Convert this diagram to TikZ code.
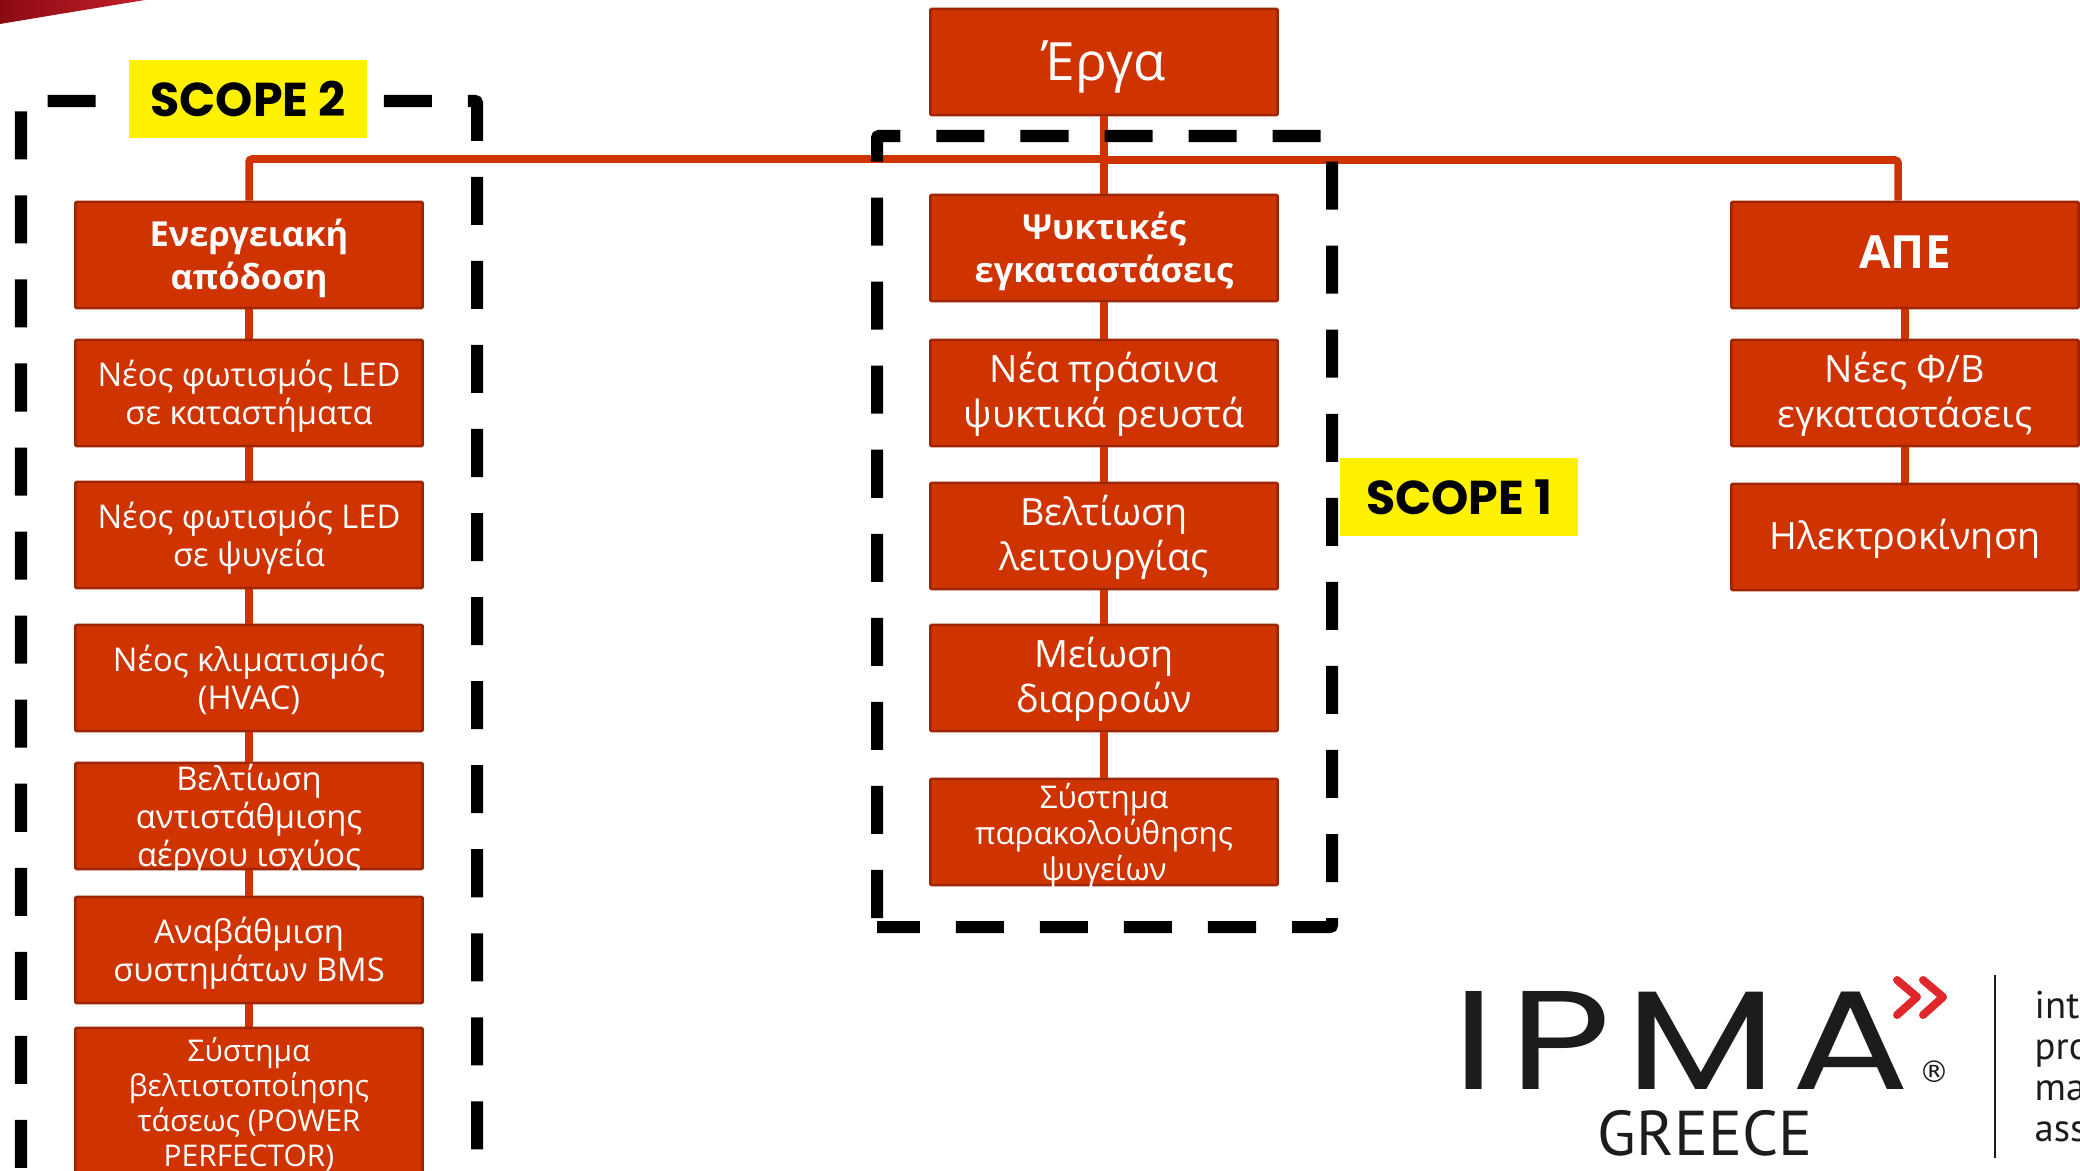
\documentclass[tikz,border=0pt]{standalone}
\usepackage{fontspec}
\setmainfont{Open Sans}
\newfontfamily\labelfont{Poppins}
\newfontfamily\markfont{Poppins}[LetterSpace=8]
\newfontfamily\tagfont{PT Sans}
\newfontfamily\regfont{DejaVu Sans}
\definecolor{boxred}{HTML}{CF3300}
\definecolor{boxedge}{HTML}{9C2500}
\definecolor{swooshdark}{HTML}{8A0A14}
\definecolor{swooshred}{HTML}{C4202A}
\definecolor{markred}{HTML}{E0282C}
\definecolor{markink}{HTML}{1C1C1C}
\newcommand{\boxtext}[2][0.13cm]{\smash{\raisebox{-#1}{\begin{tabular}{@{}c@{}}#2\end{tabular}}}}
\tikzset{
    projbox/.style={draw=boxedge, fill=boxred, text=white, line width=0.025cm, rounded corners=0.01cm, minimum width=3.47cm, minimum height=1.06cm, inner sep=0pt},
    projlink/.style={draw=boxred, line width=0.075cm},
    scopeline/.style={draw=black, line width=0.12cm, dash pattern=on 0.48cm off 0.36cm, rounded corners=0.02cm},
    scopetag/.style={fill=yellow, minimum width=2.38cm, minimum height=0.78cm, inner sep=0pt, font=\labelfont\bfseries\fontsize{13.5}{16}\selectfont},
    topfont/.style={font=\fontsize{15}{17}\selectfont},
    headfont/.style={font=\bfseries\fontsize{9.8}{12.5}\selectfont},
    apefont/.style={font=\bfseries\fontsize{13}{16}\selectfont},
    midfont/.style={font=\fontsize{10.7}{12.8}\selectfont},
    sidefont/.style={font=\fontsize{9.3}{10.8}\selectfont},
    monitorfont/.style={font=\fontsize{8.9}{10.2}\selectfont},
    powerfont/.style={font=\fontsize{8.5}{10}\selectfont}
}
\begin{document}
\begin{tikzpicture}[x=0.01cm, y=-0.01cm]
    \useasboundingbox (0,0) rectangle (2080,1170);
    \clip (0,0) rectangle (2080,1170);

    % Corner swoosh
    \shade[left color=swooshdark, right color=swooshred] (0,0) -- (145,0) -- (60,14) -- (0,24) -- cycle;

    % Draw nodes
    \node[projbox, topfont] (erga) at (1104,62) {\boxtext[0.19cm]{Έργα}};

    \node[projbox, headfont] (energy) at (249,255) {\boxtext{Ενεργειακή\\απόδοση}};
    \node[projbox, sidefont] (ledstore) at (249,393) {\boxtext{Νέος φωτισμός LED\\σε καταστήματα}};
    \node[projbox, sidefont] (ledfridge) at (249,535) {\boxtext{Νέος φωτισμός LED\\σε ψυγεία}};
    \node[projbox, sidefont] (hvac) at (249,678) {\boxtext{Νέος κλιματισμός\\(HVAC)}};
    \node[projbox, sidefont] (reactive) at (249,816) {\boxtext{Βελτίωση\\αντιστάθμισης\\αέργου ισχύος}};
    \node[projbox, sidefont] (bms) at (249,950) {\boxtext{Αναβάθμιση\\συστημάτων BMS}};
    \node[projbox, powerfont, minimum height=1.46cm] (power) at (249,1101) {\boxtext{Σύστημα\\βελτιστοποίησης\\τάσεως (POWER\\PERFECTOR)}};

    \node[projbox, headfont] (cooling) at (1104,248) {\boxtext{Ψυκτικές\\εγκαταστάσεις}};
    \node[projbox, midfont] (refrigerant) at (1104,393) {\boxtext{Νέα πράσινα\\ψυκτικά ρευστά}};
    \node[projbox, midfont] (operation) at (1104,536) {\boxtext{Βελτίωση\\λειτουργίας}};
    \node[projbox, midfont] (leaks) at (1104,678) {\boxtext{Μείωση\\διαρροών}};
    \node[projbox, monitorfont] (monitor) at (1104,832) {\boxtext{Σύστημα\\παρακολούθησης\\ψυγείων}};

    \node[projbox, apefont] (ape) at (1905,255) {\boxtext{ΑΠΕ}};
    \node[projbox, midfont] (solar) at (1905,393) {\boxtext{Νέες Φ/Β\\εγκαταστάσεις}};
    \node[projbox, midfont] (emobility) at (1905,537) {\boxtext{Ηλεκτροκίνηση}};

    % Draw connections
    \coordinate (busleft) at (1104,159);
    \coordinate (busright) at (1104,160);
    \draw[projlink, rounded corners=0.03cm] (erga.south) -- (busleft) -| (energy.north);
    \draw[projlink, rounded corners=0.03cm] (busright) -| ([xshift=-0.07cm]ape.north);
    \draw[projlink] (erga.south) -- (cooling.north);
    \draw[projlink] (energy.south) -- (ledstore.north);
    \draw[projlink] (ledstore.south) -- (ledfridge.north);
    \draw[projlink] (ledfridge.south) -- (hvac.north);
    \draw[projlink] (hvac.south) -- (reactive.north);
    \draw[projlink] (reactive.south) -- (bms.north);
    \draw[projlink] (bms.south) -- (power.north);
    \draw[projlink] (cooling.south) -- (refrigerant.north);
    \draw[projlink] (refrigerant.south) -- (operation.north);
    \draw[projlink] (operation.south) -- (leaks.north);
    \draw[projlink] (leaks.south) -- (monitor.north);
    \draw[projlink] (ape.south) -- (solar.north);
    \draw[projlink] (solar.south) -- (emobility.north);

    % Dashed scopes
    \draw[scopeline] (21,1252) -- (21,101) -- (477,101) -- (477,1240);
    \draw[scopeline] (877,918) -- (877,136) -- (1332,136) -- (1332,927) -- (877,927);
    \node[scopetag] (scopetwo) at (248,99) {SCOPE 2};
    \node[scopetag] (scopeone) at (1459,497) {SCOPE 1};

    % Logo
    \node[anchor=west, text=markink, font=\markfont\fontsize{40}{44}\selectfont, inner sep=0pt] (ipma) at (1452,1040) {\scalebox{1.25}[1]{IPMA}};
    \node[text=markink, font=\regfont\fontsize{8.5}{9}\selectfont, inner sep=0pt] (regmark) at (1934,1072) {®};
    \node[text=markink, font=\tagfont\fontsize{18}{20}\selectfont, inner sep=0pt] (greece) at (1705,1133) {GREECE};
    \draw[draw=markred, line width=0.08cm, line cap=round, line join=round] (1897,980) -- (1917,997) -- (1897,1015);
    \draw[draw=markred, line width=0.08cm, line cap=round, line join=round] (1923,980) -- (1943,997) -- (1923,1015);
    \draw[draw=markink, line width=0.02cm] (1995,975) -- (1995,1158);
    \node[anchor=north west, text=markink, font=\tagfont\fontsize{11}{11.7}\selectfont, align=left, inner sep=0pt] (assoc) at (2034,990) {int\\pro\\ma\\ass};
\end{tikzpicture}
\end{document}
